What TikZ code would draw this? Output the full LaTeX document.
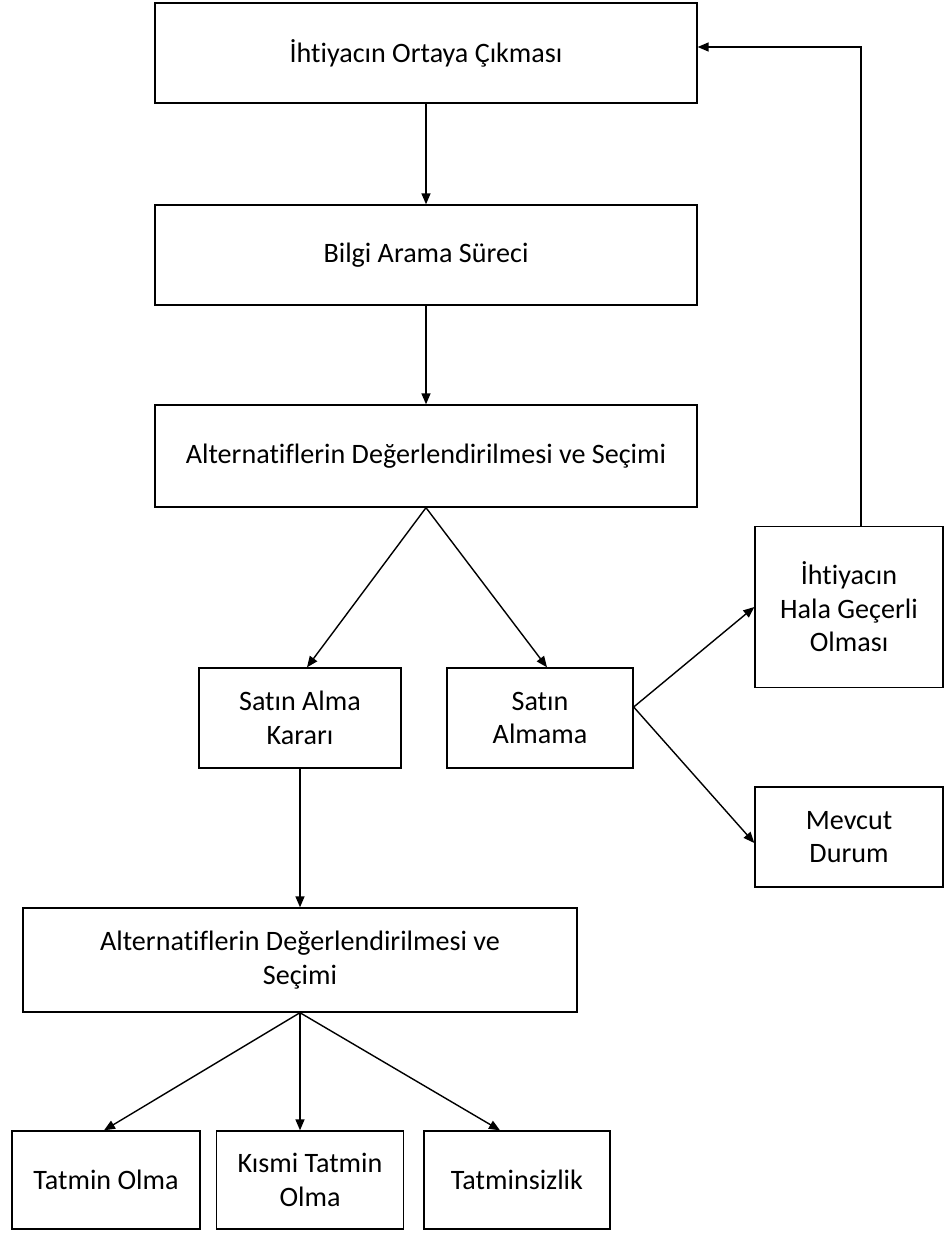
\documentclass[tikz,border=0pt]{standalone}
\usepackage{fontspec}
\setmainfont{Carlito}[Ligatures=NoCommon]
\usetikzlibrary{positioning,calc,arrows.meta}

\begin{document}
\begin{tikzpicture}[
  x = 0.02cm,
  y = -0.02cm,
  line width = 0.8pt,
  box/.style = {draw, align=center, inner sep=2pt,
    font=\fontsize{16}{19}\selectfont},
  >={Triangle[length=2.2mm,width=1.8mm]},
  ]
  \useasboundingbox (0,0) rectangle (948,1234);

  \node[box, minimum width=10.84cm, minimum height=2cm] (need) at (426,53)
    {İhtiyacın Ortaya Çıkması};
  \node[box, minimum width=10.84cm, minimum height=2cm] (search) at (426,255)
    {Bilgi Arama Süreci};
  \node[box, minimum width=10.84cm, minimum height=2.04cm] (eval) at (426,456)
    {Alternatiflerin Değerlendirilmesi ve Seçimi};
  \node[box, minimum width=4.04cm, minimum height=2cm] (buy) at (300,718)
    {Satın Alma\\Kararı};
  \node[box, minimum width=3.72cm, minimum height=2cm] (nobuy) at (540,718)
    {Satın\\Almama};
  \node[box, minimum width=3.76cm, minimum height=3.22cm] (still) at (849,607)
    {İhtiyacın\\Hala Geçerli\\Olması};
  \node[box, minimum width=3.76cm, minimum height=2cm] (status) at (849,837)
    {Mevcut\\Durum};
  \node[box, minimum width=11.08cm, minimum height=2.08cm] (eval2) at (300,960)
    {Alternatiflerin Değerlendirilmesi ve\\Seçimi};
  \node[box, minimum width=3.76cm, minimum height=1.96cm] (sat) at (106,1180)
    {Tatmin Olma};
  \node[box, minimum width=3.74cm, minimum height=1.96cm] (partsat) at (310,1180)
    {Kısmi Tatmin\\Olma};
  \node[box, minimum width=3.72cm, minimum height=1.96cm] (unsat) at (517,1180)
    {Tatminsizlik};

  \draw[->] (need) -- (search);
  \draw[->] (search) -- (eval);
  \draw[->] (eval.south) -- ([xshift=0.14cm]buy.north);
  \draw[->] (eval.south) -- ([xshift=0.14cm]nobuy.north);
  \draw[->] ([yshift=0.22cm]nobuy.east) -- (still.west);
  \draw[->] ([yshift=0.22cm]nobuy.east) -- ([yshift=-0.12cm]status.west);
  \draw[->] ([xshift=0.24cm]still.north) |- ([yshift=0.12cm]need.east);
  \draw[->] (buy) -- (eval2);
  \draw[->] (eval2.south) -- ([xshift=-0.04cm]sat.north);
  \draw[->] (eval2.south) -- (eval2.south |- partsat.north);
  \draw[->] (eval2.south) -- ([xshift=-0.34cm]unsat.north);
\end{tikzpicture}
\end{document}
